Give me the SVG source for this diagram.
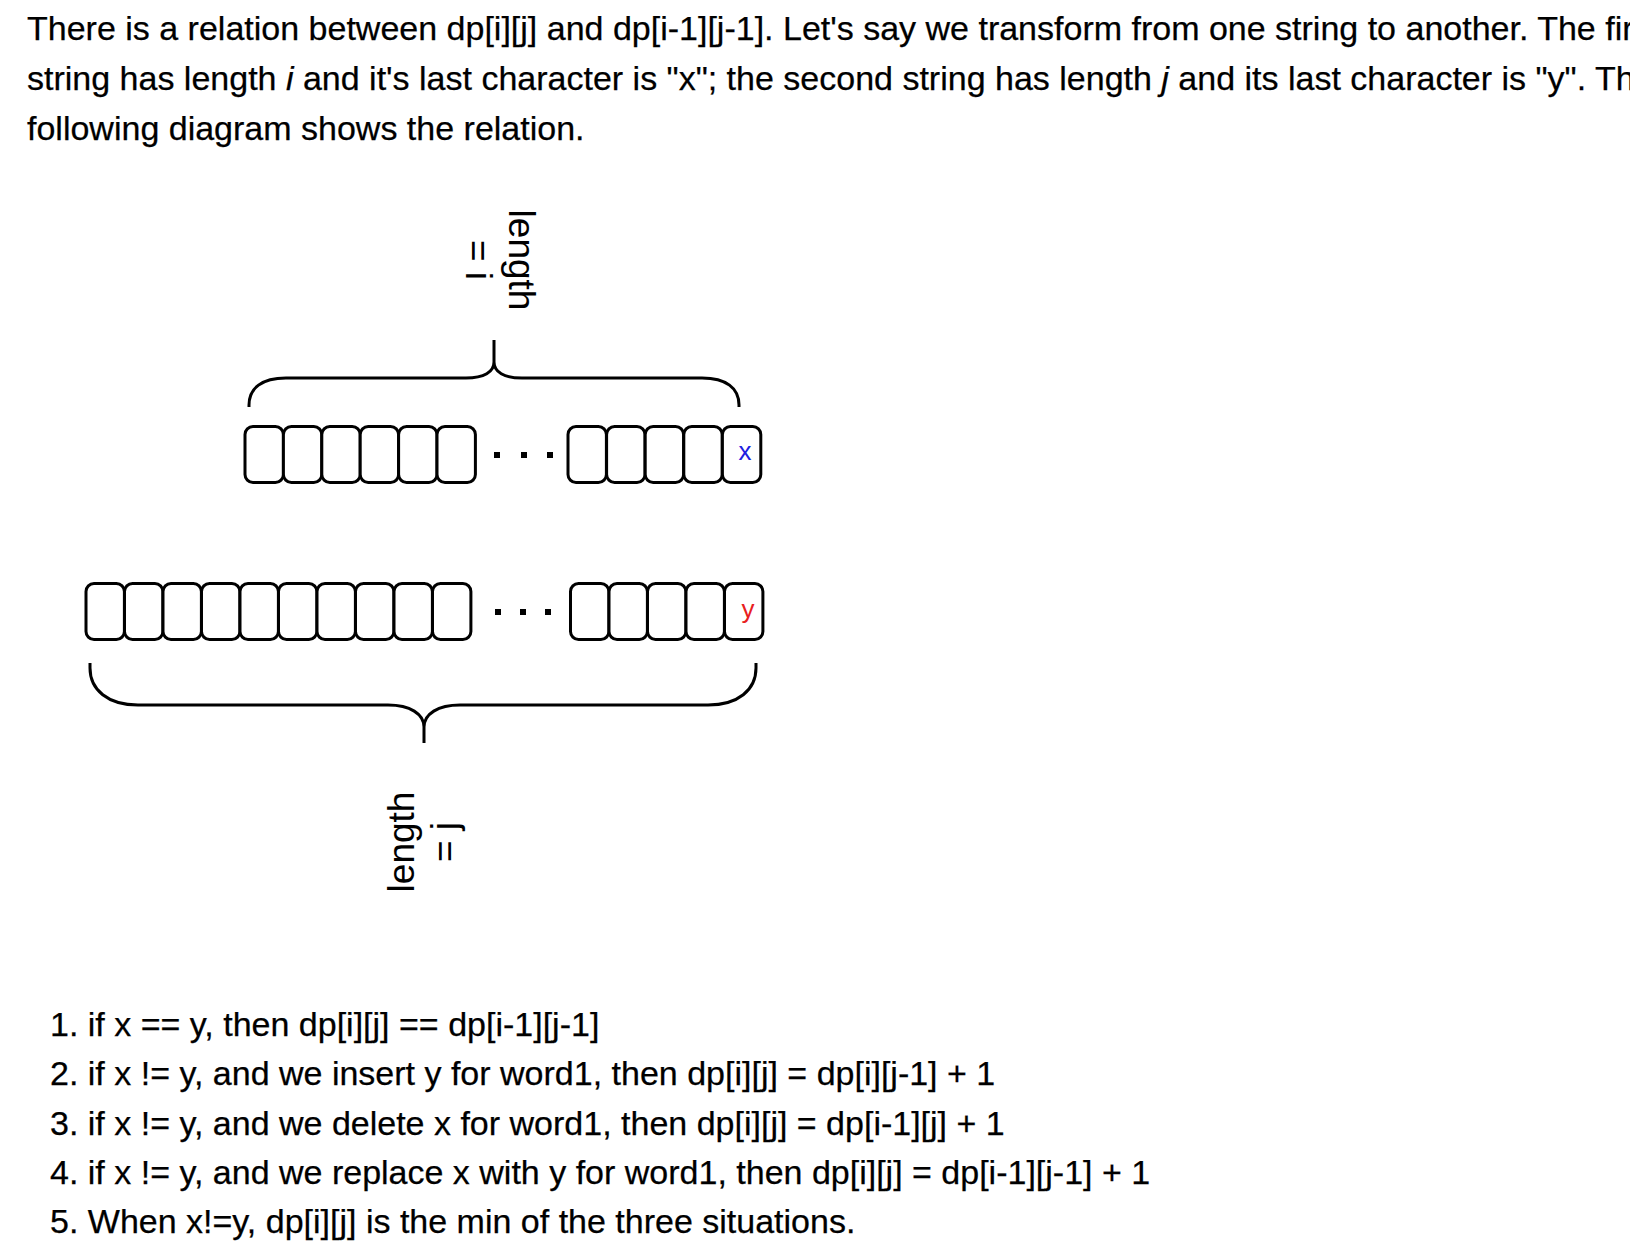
<svg xmlns="http://www.w3.org/2000/svg" width="1630" height="1256" viewBox="0 0 1630 1256">
<style>
  .t { font-family: "Liberation Sans", Arial, Helvetica, sans-serif; font-size: 34px; fill: #000; stroke: #000; stroke-width: 0.25px; }
  .lbl { font-family: "Liberation Sans", Arial, Helvetica, sans-serif; font-size: 37px; fill: #000; text-anchor: middle; }
  .ch { font-family: "Liberation Sans", Arial, Helvetica, sans-serif; font-size: 26px; text-anchor: middle; }
  .cell { fill: #fff; stroke: #000; stroke-width: 3; }
  .brace { fill: none; stroke: #000; stroke-width: 3; stroke-linejoin: round; }
  .dot { fill: #000; }
</style>
<defs>
  <rect id="c" class="cell" x="0" y="0" width="38.4" height="56" rx="8" ry="8"/>
</defs>
<rect width="1630" height="1256" fill="#fff"/>

<g id="intro">
  <text class="t" x="27" y="40">There is a relation between dp[i][j] and dp[i-1][j-1]. Let's say we transform from one string to another. The fir</text>
  <text class="t" x="27" y="90">string has length <tspan font-style="italic">i</tspan> and it's last character is "x"; the second string has length <tspan font-style="italic">j</tspan> and its last character is "y". Th</text>
  <text class="t" x="27" y="140">following diagram shows the relation.</text>
</g>

<g id="string-word1">
  <use href="#c" x="245" y="426.5"/>
  <use href="#c" x="283.4" y="426.5"/>
  <use href="#c" x="321.8" y="426.5"/>
  <use href="#c" x="360.2" y="426.5"/>
  <use href="#c" x="398.6" y="426.5"/>
  <use href="#c" x="437" y="426.5"/>
  <rect class="dot" x="494" y="452" width="6" height="6"/>
  <rect class="dot" x="521" y="452" width="6" height="6"/>
  <rect class="dot" x="547" y="452" width="6" height="6"/>
  <use href="#c" x="568" y="426.5"/>
  <use href="#c" x="606.6" y="426.5"/>
  <use href="#c" x="645.2" y="426.5"/>
  <use href="#c" x="683.8" y="426.5"/>
  <use href="#c" x="722.4" y="426.5"/>
  <text class="ch" x="745" y="460" fill="#2020e0">x</text>
</g>

<g id="string-word2">
  <use href="#c" x="86" y="583.5"/>
  <use href="#c" x="124.5" y="583.5"/>
  <use href="#c" x="163" y="583.5"/>
  <use href="#c" x="201.5" y="583.5"/>
  <use href="#c" x="240" y="583.5"/>
  <use href="#c" x="278.5" y="583.5"/>
  <use href="#c" x="317" y="583.5"/>
  <use href="#c" x="355.5" y="583.5"/>
  <use href="#c" x="394" y="583.5"/>
  <use href="#c" x="432.5" y="583.5"/>
  <rect class="dot" x="495" y="609" width="6" height="6"/>
  <rect class="dot" x="520" y="609" width="6" height="6"/>
  <rect class="dot" x="545" y="609" width="6" height="6"/>
  <use href="#c" x="570.5" y="583.5"/>
  <use href="#c" x="609" y="583.5"/>
  <use href="#c" x="647.5" y="583.5"/>
  <use href="#c" x="686" y="583.5"/>
  <use href="#c" x="724.5" y="583.5"/>
  <text class="ch" x="748" y="618" fill="#e82020">y</text>
</g>

<g id="connectors">
  <path class="brace" d="M249,407 L249,405 C249,388 262,378 286,378 L466,378 C484,378 494,372 494,362 L494,340 M494,362 C494,372 504,378 522,378 L702,378 C726,378 739,388 739,405 L739,407"/>
  <path class="brace" d="M90,663 L90,668 C90,690 108,705 138,705 L388,705 C410,705 424,714 424,727 L424,743 M424,727 C424,714 438,705 460,705 L708,705 C738,705 756,690 756,668 L756,663"/>
</g>

<g id="label-i">
  <text class="lbl" transform="translate(509,260) rotate(90)"><tspan x="0" y="0">length</tspan><tspan x="0" y="43">= i</tspan></text>
</g>

<g id="label-j">
  <text class="lbl" transform="translate(414,842) rotate(-90)"><tspan x="0" y="0">length</tspan><tspan x="0" y="43">= j</tspan></text>
</g>

<g id="rules">
  <text class="t" x="50" y="1036">1. if x == y, then dp[i][j] == dp[i-1][j-1]</text>
  <text class="t" x="50" y="1085">2. if x != y, and we insert y for word1, then dp[i][j] = dp[i][j-1] + 1</text>
  <text class="t" x="50" y="1135">3. if x != y, and we delete x for word1, then dp[i][j] = dp[i-1][j] + 1</text>
  <text class="t" x="50" y="1184">4. if x != y, and we replace x with y for word1, then dp[i][j] = dp[i-1][j-1] + 1</text>
  <text class="t" x="50" y="1233">5. When x!=y, dp[i][j] is the min of the three situations.</text>
</g>
</svg>
